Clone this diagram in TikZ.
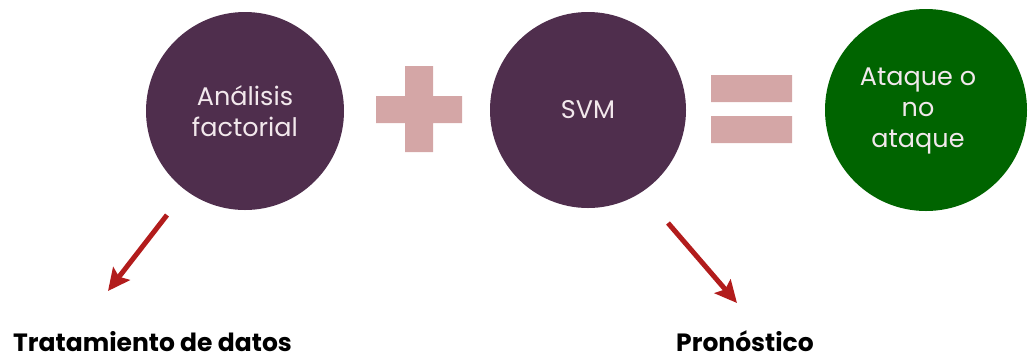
\documentclass[tikz,border=0pt]{standalone}
\usepackage{fontspec}
\setmainfont{Poppins}
\usetikzlibrary{arrows.meta}
\definecolor{ciruela}{RGB}{79,46,77}
\definecolor{verde}{RGB}{0,100,0}
\definecolor{rosa}{RGB}{212,166,166}
\definecolor{flecha}{RGB}{178,28,28}
\definecolor{letra}{RGB}{242,232,236}

\begin{document}
\begin{tikzpicture}[x=1pt,y=-1pt,every node/.style={inner sep=0pt},
  bola/.style={circle,minimum size=198pt,text=letra,align=center,font=\fontsize{25.5}{31}\selectfont},
  etiqueta/.style={anchor=base west,font=\bfseries\fontsize{25}{25}\selectfont},
  >={Stealth[length=22pt,width=21pt,inset=4pt]}]
\useasboundingbox (0,0) rectangle (1031,360);
\node[bola,fill=ciruela](AF)at(245,111){Análisis\\factorial};
\node[bola,fill=ciruela,minimum size=196pt](SVM)at(588,110){SVM};
\node[bola,fill=verde,minimum size=202pt](AT)at(926,110){};
\node[bola,minimum size=0pt](ATt)at(918,111){Ataque o\\no\\ataque};
% mas e igual
\fill[rosa](376,96)rectangle(462,123)(405,66)rectangle(433,152);
\fill[rosa](711,75)rectangle(792,102)(711,116)rectangle(792,143);
\node[etiqueta](TD)at(13,351){Tratamiento de datos};
\node[etiqueta](PR)at(676,351){Pronóstico};
\coordinate(AFa)at(167,215);
\coordinate(AFb)at(108,291);
\coordinate(SVMa)at(668,223);
\coordinate(SVMb)at(737,303);
\foreach \x/\y in {AFa/AFb,SVMa/SVMb}
{\draw[->,flecha,line width=5pt](\x)--(\y);}
\end{tikzpicture}
\end{document}
